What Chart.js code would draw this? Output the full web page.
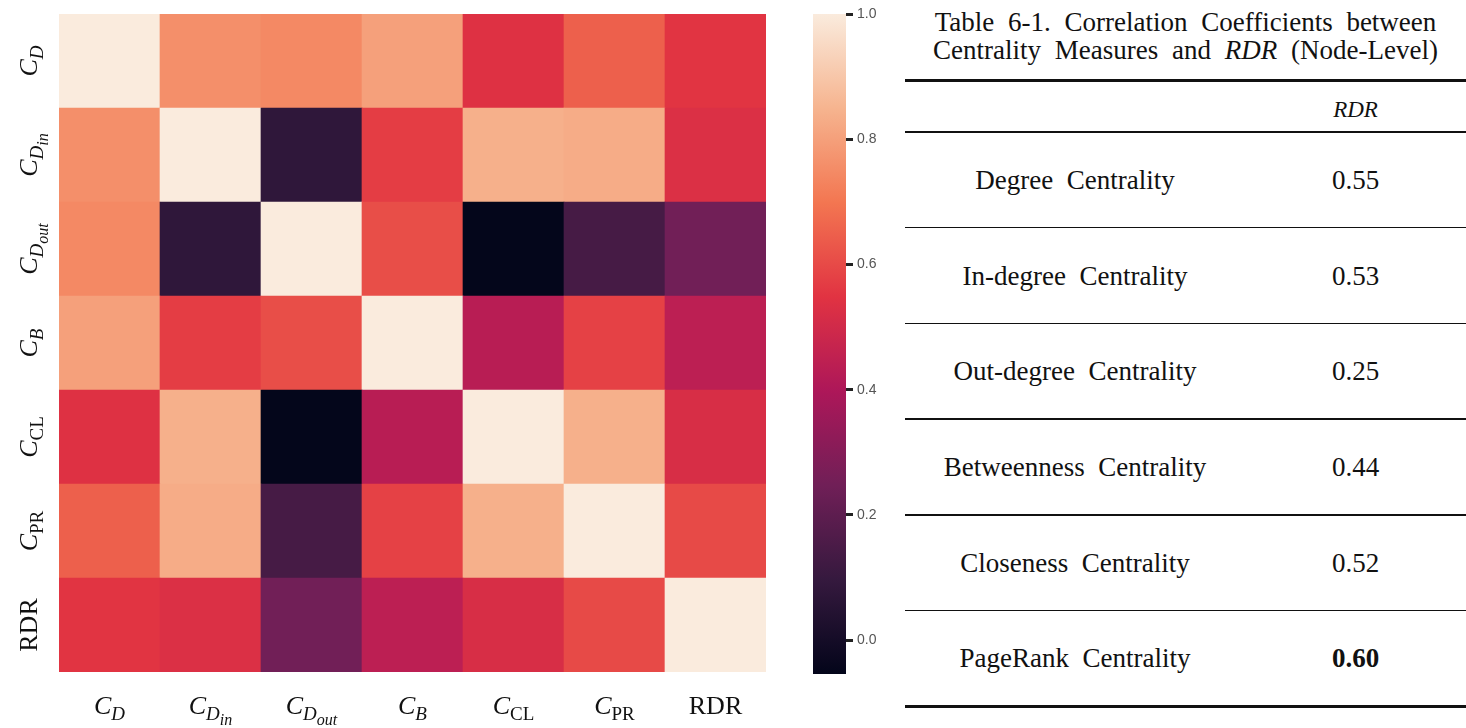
<!DOCTYPE html>
<html>
<head>
<meta charset="utf-8">
<script src="https://cdn.jsdelivr.net/npm/chart.js@4"></script>
<style>
  body { margin: 0; background: #fff; width: 1466px; height: 728px; overflow: hidden; position: relative; font-family: "Liberation Serif", serif; color: #111; }
  #heat { position: absolute; left: 0; top: 0; }
  #cbar { position: absolute; left: 800px; top: 0; }
  #tbl { position: absolute; left: 905px; top: 0; width: 561px; height: 728px; }
  .cap { position: absolute; left: 0; width: 561px; font-size: 27px; line-height: 28px; text-align: center; white-space: nowrap; word-spacing: 7px; }
  .rule { position: absolute; left: 0; width: 561px; background: #111; }
  .cell { position: absolute; font-size: 27px; text-align: center; transform: translateY(-50%); }
</style>
</head>
<body>
<canvas id="heat" width="800" height="728"></canvas>
<canvas id="cbar" width="86" height="728"></canvas>
<div id="tbl">
  <div class="cap" style="top:8px">Table 6-1. Correlation Coefficients between</div>
  <div class="cap" style="top:36px">Centrality Measures and <i>RDR</i> (Node-Level)</div>
</div>
<script>
// heatmap categories (top row / left column first)
const categories = ["C_D", "C_D_in", "C_D_out", "C_B", "C_CL", "C_PR", "RDR"];

// correlation values
const rowCD    = [1.00, 0.76, 0.745, 0.80, 0.54, 0.65, 0.55];
const rowCDin  = [0.76, 1.00, 0.08, 0.57, 0.84, 0.83, 0.53];
const rowCDout = [0.745, 0.08, 1.00, 0.61, -0.05, 0.14, 0.25];
const rowCB    = [0.80, 0.57, 0.61, 1.00, 0.43, 0.58, 0.44];
const rowCCL   = [0.54, 0.84, -0.05, 0.43, 1.00, 0.84, 0.52];
const rowCPR   = [0.65, 0.83, 0.14, 0.58, 0.84, 1.00, 0.60];
const rowRDR   = [0.55, 0.53, 0.25, 0.44, 0.52, 0.60, 1.00];
const matrix = [rowCD, rowCDin, rowCDout, rowCB, rowCCL, rowCPR, rowRDR];

// colour bar
const cbarMin = -0.054;
const cbarMax = 1.0;
const cbarTicks = [0.0, 0.2, 0.4, 0.6, 0.8, 1.0];

// table
const tableRows = ["Degree  Centrality", "In-degree  Centrality", "Out-degree  Centrality",
                   "Betweenness  Centrality", "Closeness  Centrality", "PageRank  Centrality"];
const tableValues = [0.55, 0.53, 0.25, 0.44, 0.52, 0.60];

// seaborn "rocket" colormap anchors
const rocketStops = [
  [0 / 7, "#03051a"], [1 / 7, "#35193e"], [2 / 7, "#701f57"], [3 / 7, "#ad1759"],
  [4 / 7, "#e13342"], [5 / 7, "#f37651"], [6 / 7, "#f6b48f"], [7 / 7, "#faebdd"]
];

function hexToRgb(h) {
  return [1, 3, 5].map(i => parseInt(h.substr(i, 2), 16));
}

function rocket(v) {
  let t = (v - cbarMin) / (cbarMax - cbarMin);
  t = Math.max(0, Math.min(1, t));
  for (let i = 1; i < rocketStops.length; i++) {
    const [t1, c1] = rocketStops[i];
    if (t <= t1) {
      const [t0, c0] = rocketStops[i - 1];
      const f = (t - t0) / (t1 - t0);
      const a = hexToRgb(c0), b = hexToRgb(c1);
      const rgb = a.map((x, k) => Math.round(x + (b[k] - x) * f));
      return `rgb(${rgb.join(",")})`;
    }
  }
  return rocketStops[rocketStops.length - 1][1];
}

// draw a label like C_D_in as C with nested subscripts
function drawLabel(ctx, name, x, y, angle) {
  const parts = name.split("_");
  const sizes = [26, 19, 16];
  const drops = [0, 6, 11];
  const fonts = parts.map((p, i) => {
    const italic = parts.length > 1 && (p.length === 1 || p === p.toLowerCase());
    return `${italic ? "italic " : ""}${sizes[i]}px "Liberation Serif"`;
  });
  let total = 0;
  const widths = parts.map((p, i) => {
    ctx.font = fonts[i];
    const w = ctx.measureText(p).width;
    total += w;
    return w;
  });
  ctx.save();
  ctx.translate(x, y);
  ctx.rotate(angle);
  ctx.fillStyle = "#111";
  ctx.textBaseline = "alphabetic";
  ctx.textAlign = "left";
  let cx = -total / 2;
  parts.forEach((p, i) => {
    ctx.font = fonts[i];
    ctx.fillText(p, cx, 8 + drops[i]);
    cx += widths[i];
  });
  ctx.restore();
}

const labelPlugin = {
  id: "matrixLabels",
  afterDraw(chart) {
    const ctx = chart.ctx;
    const xs = chart.scales.x, ys = chart.scales.y;
    categories.forEach((name, i) => {
      drawLabel(ctx, name, xs.getPixelForValue(i), 706, 0);
      drawLabel(ctx, name, 29, ys.getPixelForValue(categories.length - i - 0.5), -Math.PI / 2);
    });
  }
};

// one stacked dataset per row, bottom row first
const heatSets = matrix.map((row, r) => ({
  label: categories[r],
  data: row.map(() => 1),
  backgroundColor: row.map(rocket),
  borderWidth: 0,
  barPercentage: 1,
  categoryPercentage: 1
})).reverse();

new Chart(document.getElementById("heat"), {
  type: "bar",
  data: { labels: categories, datasets: heatSets },
  options: {
    responsive: false,
    animation: false,
    layout: { padding: { left: 59, top: 14, right: 34, bottom: 56 } },
    plugins: { legend: { display: false }, tooltip: { enabled: false } },
    scales: {
      x: { stacked: true, display: false },
      y: { stacked: true, display: false, min: 0, max: categories.length }
    }
  },
  plugins: [labelPlugin]
});

new Chart(document.getElementById("cbar"), {
  type: "bar",
  data: {
    labels: [""],
    datasets: [{
      data: [[cbarMin, cbarMax]],
      borderWidth: 0,
      barPercentage: 1,
      categoryPercentage: 1,
      backgroundColor(c) {
        const ca = c.chart.chartArea;
        if (!ca) return null;
        const g = c.chart.ctx.createLinearGradient(0, ca.bottom, 0, ca.top);
        rocketStops.forEach(([t, col]) => g.addColorStop(t, col));
        return g;
      }
    }]
  },
  options: {
    responsive: false,
    animation: false,
    layout: { padding: { left: 13, top: 14, right: 0, bottom: 54 } },
    plugins: { legend: { display: false }, tooltip: { enabled: false } },
    scales: {
      x: { display: false },
      y: {
        position: "right",
        min: cbarMin,
        max: cbarMax,
        afterBuildTicks(scale) { scale.ticks = cbarTicks.map(v => ({ value: v })); },
        afterFit(scale) { scale.width = 40; },
        border: { display: false },
        grid: { drawOnChartArea: false, drawTicks: true, tickLength: 7, color: "#222", lineWidth: 3 },
        ticks: {
          padding: 4,
          color: "#555",
          font: { family: "Liberation Sans", size: 14 },
          callback: v => v.toFixed(1)
        }
      }
    }
  }
});

// table
const tbl = document.getElementById("tbl");
function rule(y, h) {
  const d = document.createElement("div");
  d.className = "rule";
  d.style.top = (y - h / 2) + "px";
  d.style.height = h + "px";
  tbl.appendChild(d);
}
function cell(html, x, w, y, extra) {
  const d = document.createElement("div");
  d.className = "cell";
  d.style.left = x + "px";
  d.style.width = w + "px";
  d.style.top = y + "px";
  if (extra) d.style.cssText += extra;
  d.innerHTML = html;
  tbl.appendChild(d);
}
const headTop = 80, headBottom = 132, rowH = 95.7;
const best = tableValues.indexOf(Math.max(...tableValues));
rule(headTop, 3);
cell("<i>RDR</i>", 340, 221, (headTop + headBottom) / 2 + 4, "font-size:23px");
rule(headBottom, 1.5);
tableRows.forEach((name, i) => {
  const mid = headBottom + rowH * (i + 0.5);
  cell(name.replace(/ /g, "&nbsp;"), 0, 340, mid);
  cell(tableValues[i].toFixed(2), 340, 221, mid, i === best ? "font-weight:bold" : "");
  const last = i === tableRows.length - 1;
  rule(headBottom + rowH * (i + 1), last ? 3 : (i === 2 ? 2.5 : 1.5));
});
</script>
</body>
</html>
